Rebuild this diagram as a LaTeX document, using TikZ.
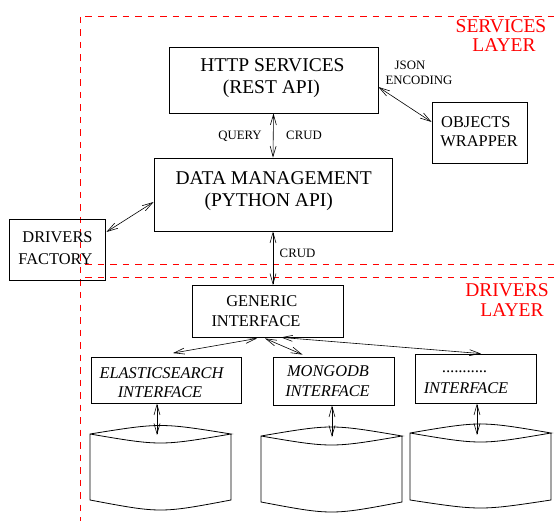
\documentclass[tikz,border=0pt]{standalone}
\usepackage{fontspec}
\setmainfont{Liberation Serif}
\usetikzlibrary{arrows.meta,calc}
\begin{document}
\begin{tikzpicture}[x=1pt,y=-1pt,
  box/.style={draw,line width=0.8pt,inner sep=0pt},
  big/.style={anchor=base,inner sep=0pt,font=\fontsize{19.5}{22}\selectfont},
  mid/.style={anchor=base,inner sep=0pt,font=\fontsize{16.4}{19.5}\selectfont},
  midit/.style={anchor=base,inner sep=0pt,font=\fontsize{16.4}{19.5}\selectfont\itshape},
  tag/.style={anchor=base,inner sep=0pt,font=\fontsize{12.8}{14}\selectfont},
  layer/.style={anchor=base,inner sep=0pt,text=red,font=\fontsize{19.5}{20}\selectfont},
  bound/.style={red,line width=0.8pt,dash pattern=on 6.5pt off 6pt},
  link/.style={line width=0.6pt,{Straight Barb[length=10.5pt,width=6pt]}-{Straight Barb[length=10.5pt,width=6pt]}},
  drum/.style={line width=0.8pt}]

\useasboundingbox (0,0) rectangle (554,521);

% layer boundaries
\draw[bound] (85,16) -- (554,16);
\draw[bound] (80,17) -- (80,521);
\draw[bound] (85,264) -- (554,264);
\draw[bound] (85,277) -- (554,277);

\node[layer] (svcA) at (501,32.3) {SERVICES};
\node[layer] (svcB) at (504,51.7) {LAYER};
\node[layer] (drvA) at (507,296.7) {DRIVERS};
\node[layer] (drvB) at (512,316.7) {LAYER};

% boxes
\node[box,minimum width=209pt,minimum height=66pt] (http) at (273.5,80) {};
\node[box,minimum width=95pt,minimum height=61pt] (objects) at (479.5,132.5) {};
\node[box,minimum width=238pt,minimum height=73pt] (dm) at (273,194.5) {};
\node[box,minimum width=96pt,minimum height=61pt] (factory) at (57,249.5) {};
\node[box,minimum width=151pt,minimum height=51.5pt] (generic) at (268,311.25) {};
\node[box,minimum width=150pt,minimum height=46pt] (elastic) at (166,380) {};
\node[box,minimum width=121pt,minimum height=48pt] (mongo) at (333.5,381) {};
\node[box,minimum width=121pt,minimum height=49pt] (other) at (475.5,378.5) {};

% box texts
\node[big] (httpA) at (272.5,71.7) {HTTP SERVICES};
\node[big] (httpB) at (271.3,93.3) {(REST API)};
\node[big] (dmA) at (273.7,184.3) {DATA MANAGEMENT};
\node[big] (dmB) at (268.7,206.7) {(PYTHON API)};
\node[mid] (objA) at (475.8,128) {OBJECTS};
\node[mid] (objB) at (479.2,147) {WRAPPER};
\node[mid] (facA) at (57.5,242.7) {DRIVERS};
\node[mid] (facB) at (55.5,264.3) {FACTORY};
\node[mid] (genA) at (261.8,306.7) {GENERIC};
\node[mid] (genB) at (256,326.7) {INTERFACE};
\node[midit] (elA) at (161.5,378) {ELASTICSEARCH};
\node[midit] (elB) at (160,397) {INTERFACE};
\node[midit] (moA) at (328,376.7) {MONGODB};
\node[midit] (moB) at (327.5,396.7) {INTERFACE};
\node[midit] (otA) at (465,372) {...........};
\node[midit] (otB) at (466,393) {INTERFACE};

% databases
\foreach \n/\l/\r/\t/\p/\q/\b/\c in {1/90/231/434/425.5/443/500/510,
                                     2/261/402/436/427/445/502/512,
                                     3/410/551/433/424/442/500/508}{
  \pgfmathsetmacro{\m}{(\l+\r)/2}
  \pgfmathsetmacro{\u}{\t-(\t-\p)*4/3}
  \pgfmathsetmacro{\d}{\t+(\q-\t)*4/3}
  \pgfmathsetmacro{\e}{\b+(\c-\b)*4/3}
  \draw[drum] (\l,\t) .. controls (\m,\u) .. (\r,\t)
        .. controls (\m,\d) .. (\l,\t) -- (\l,\b)
        .. controls (\m,\e) .. (\r,\b) -- (\r,\t);
}
\coordinate (db1) at (157,435);
\coordinate (db2) at (332,437);
\coordinate (db3) at (477,435);

% connectors
\draw[link] (http.south) -- (dm.north);
\node[tag] (query) at (240,139.3) {QUERY};
\node[tag] (crud1) at (304,139.3) {CRUD};

\draw[link] ([yshift=-7pt]http.east) -- ([yshift=10.5pt]objects.west);
\node[tag] (json) at (410,70) {JSON};
\node[tag] (enc) at (419,85) {ENCODING};

\draw[link] ([yshift=-7.5pt]dm.west) -- ([yshift=17.5pt,xshift=1pt]factory.east);

\draw[link] (dm.south) -- (dm.south |- generic.north);
\node[tag] (crud2) at (297.5,257.7) {CRUD};

\draw[link] ([xshift=-11pt,yshift=-1pt]generic.south) -- ([xshift=7pt,yshift=3.5pt]elastic.north);
\draw[link] ([xshift=-3pt,yshift=-1pt]generic.south) -- ([xshift=-31pt,yshift=2pt]mongo.north);
\draw[link] ([xshift=13pt]generic.south) -- ([xshift=5.5pt]other.north);

\draw[link] ([xshift=-9pt]elastic.south) -- (db1);
\draw[link] ([xshift=-1.5pt]mongo.south) -- (db2);
\draw[link] ([xshift=1.5pt]other.south) -- (db3);
\end{tikzpicture}
\end{document}
